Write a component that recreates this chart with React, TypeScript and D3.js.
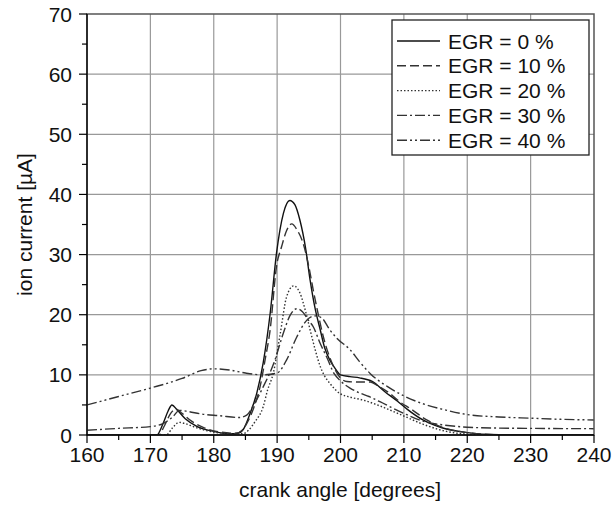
import React from "react";
import * as d3 from "d3";

const xTicks = [160, 170, 180, 190, 200, 210, 220, 230, 240];
const yTicks = [0, 10, 20, 30, 40, 50, 60, 70];
const seriesNames = ["EGR = 0 %", "EGR = 10 %", "EGR = 20 %", "EGR = 30 %", "EGR = 40 %"];

const egr0: [number, number][] = [
  [160, 0], [171, 0], [172, 1.9], [172.8, 4.0], [173.4, 5.0], [174.2, 4.2], [175.5, 2.7], [177.4, 1.4],
  [180, 0.6], [182.5, 0.2], [183.8, 0.3], [184.7, 1.0], [185.7, 3.5], [186.8, 7.0], [187.8, 12],
  [188.9, 20.2], [189.9, 30.2], [191, 36.9], [192, 39], [192.8, 38.3], [193.6, 35.7], [194.5, 31],
  [195.2, 25.8], [196, 21], [196.8, 17.5], [197.5, 14.5], [198.3, 12.5], [199.2, 11], [200, 10],
  [201.5, 9.7], [203, 9.5], [205, 8.9], [207, 7.2], [209, 5.6], [210.5, 4.3], [213, 2.5], [216, 1.2],
  [220, 0.4], [225, 0.05], [230, 0], [240, 0],
];
const egr10: [number, number][] = [
  [160, 0], [171.3, 0], [172.2, 1.5], [173.2, 3.6], [174, 4.3], [175, 3.6], [176.5, 2.3], [178.5, 1.2],
  [181, 0.5], [183.5, 0.3], [184.5, 0.8], [185.2, 1.9], [186.3, 4.5], [187.3, 8], [188.1, 12.5],
  [188.9, 17.5], [189.9, 28], [190.7, 31.3], [191.5, 34], [192.3, 35.1], [193.2, 34], [194.1, 31.9],
  [195, 28], [195.7, 24.1], [196.5, 20], [197.3, 16.3], [198.1, 13.5], [198.9, 11.4], [199.9, 9.6],
  [201, 8.9], [203, 8.8], [204.7, 8.8], [206, 8.1], [207.8, 6.9], [209.5, 5.4], [211, 4.4],
  [213.6, 2.5], [216, 1.3], [220, 0.4], [225, 0.05], [240, 0],
];
const egr20: [number, number][] = [
  [160, 0], [172.5, 0], [173.5, 1.2], [174.5, 2.1], [175.5, 1.9], [177, 1.3], [179, 0.7], [181.5, 0.3],
  [184.5, 0.2], [185.5, 0.8], [186.5, 2.2], [187.8, 4.7], [188.5, 7.5], [189.4, 10.3], [190.5, 16.9],
  [191.5, 23], [192.6, 24.8], [193.6, 23.6], [194.5, 20.5], [195.2, 17.5], [196, 14.2], [196.8, 11.4],
  [197.5, 9.8], [198.3, 8.6], [199.9, 6.9], [201.5, 6.3], [203.6, 5.8], [206.3, 4.8], [209.9, 3.2],
  [213, 1.8], [216.7, 0.6], [220, 0.15], [225, 0], [240, 0],
];
const egr30: [number, number][] = [
  [160, 0.8], [165, 1.1], [170, 1.4], [172, 1.9], [173.5, 3.0], [174.6, 4.1], [176, 3.9], [178, 3.5],
  [181, 3.2], [184, 2.9], [185.2, 3.3], [186.3, 5], [187.8, 8], [189.5, 12], [191, 17], [192, 19.8],
  [193.1, 21], [194, 20.5], [195, 19], [195.7, 18], [196.8, 15.2], [197.8, 13], [199, 10.2], [200, 9.0],
  [201.5, 7.8], [203, 7.0], [204.5, 6.4], [206.3, 5.5], [208, 4.6], [210, 3.6], [213, 2.3], [216, 1.7],
  [220, 1.3], [225, 1.15], [230, 1.1], [240, 1.05],
];
const egr40: [number, number][] = [
  [160, 5.0], [165, 6.4], [170, 7.8], [175, 9.4], [178, 10.7], [180, 11.0], [182.5, 10.8], [185, 10.3],
  [187.8, 10.0], [190, 10.3], [191.5, 12.5], [193.1, 16.3], [194.7, 19.1], [196, 19.8], [197, 19.5],
  [198.3, 17.5], [199.5, 16], [201.5, 14.2], [203, 12.2], [204.7, 10.2], [207.8, 7.8], [210, 6.5],
  [213, 5.2], [216, 4.3], [220, 3.4], [225, 3.0], [230, 2.8], [235, 2.6], [240, 2.5],
];

const seriesData = [egr0, egr10, egr20, egr30, egr40];
const dashes = ["none", "9 4", "1.5 2", "10 3 2 3", "10 3 2 3 2 3"];
const strokes = ["#111", "#333", "#333", "#333", "#333"];

const W = 616, H = 506;
const L = 87, R = 594, T = 14, B = 435;
const FONT = "'Liberation Sans', Arial, sans-serif";

export default function App() {
  const x = d3.scaleLinear().domain([160, 240]).range([L, R]);
  const y = d3.scaleLinear().domain([0, 70]).range([B, T]);
  const line = d3.line<[number, number]>().x(d => x(d[0])).y(d => y(d[1])).curve(d3.curveMonotoneX);
  const minorX = d3.range(165, 240, 10);
  const minorY = d3.range(5, 70, 10);
  const legX = 392, legY = 20, legW = 197, legH = 135;
  return (
    <svg width={W} height={H} style={{ position: "absolute", left: 0, top: 0, background: "#fff" }} fontFamily={FONT}>
      <rect x={0} y={0} width={W} height={H} fill="#fff" />
      {xTicks.slice(1, -1).map(t => (
        <line key={"gx" + t} x1={x(t)} x2={x(t)} y1={T} y2={B} stroke="#999" strokeWidth={1.2} />
      ))}
      {yTicks.slice(1, -1).map(t => (
        <line key={"gy" + t} x1={L} x2={R} y1={y(t)} y2={y(t)} stroke="#999" strokeWidth={1.2} />
      ))}
      <defs>
        <clipPath id="plot"><rect x={L} y={T} width={R - L} height={B - T} /></clipPath>
      </defs>
      <g clipPath="url(#plot)">
        {seriesData.map((s, i) => (
          <path key={i} d={line(s) || ""} fill="none" stroke={strokes[i]} strokeWidth={1.4}
            strokeDasharray={dashes[i]} />
        ))}
      </g>
      <rect x={L} y={T} width={R - L} height={B - T} fill="none" stroke="#555" strokeWidth={1.5} />
      <line x1={L} x2={L} y1={T} y2={B} stroke="#000" strokeWidth={1.3} />
      <line x1={L} x2={R} y1={B} y2={B} stroke="#000" strokeWidth={1.3} />
      {xTicks.map(t => (
        <g key={"xt" + t}>
          <line x1={x(t)} x2={x(t)} y1={B} y2={B + 8} stroke="#000" strokeWidth={1.2} />
          <text x={x(t)} y={462} textAnchor="middle" fontSize={21} fill="#111">{t}</text>
        </g>
      ))}
      {minorX.map(t => (
        <line key={"mx" + t} x1={x(t)} x2={x(t)} y1={B} y2={B + 5} stroke="#000" strokeWidth={1.2} />
      ))}
      {yTicks.map(t => (
        <g key={"yt" + t}>
          <line x1={L - 8} x2={L} y1={y(t)} y2={y(t)} stroke="#000" strokeWidth={1.2} />
          <text x={72} y={y(t)} dy="0.36em" textAnchor="end" fontSize={21} fill="#111">{t}</text>
        </g>
      ))}
      {minorY.map(t => (
        <line key={"my" + t} x1={L - 5} x2={L} y1={y(t)} y2={y(t)} stroke="#000" strokeWidth={1.2} />
      ))}
      <text x={340} y={497} textAnchor="middle" fontSize={21} fill="#111">crank angle [degrees]</text>
      <text transform={`translate(32, ${(T + B) / 2}) rotate(-90)`} textAnchor="middle" fontSize={21} fill="#111">ion current [µA]</text>
      <rect x={legX} y={legY} width={legW} height={legH} fill="#fff" stroke="#222" strokeWidth={1.3} />
      {seriesNames.map((n, i) => {
        const cy = 41 + i * 24.8;
        return (
          <g key={n}>
            <line x1={397} x2={440} y1={cy} y2={cy} stroke={strokes[i]} strokeWidth={1.4} strokeDasharray={dashes[i]} />
            <text x={448} y={cy} dy="0.36em" fontSize={21} fill="#111">{n}</text>
          </g>
        );
      })}
    </svg>
  );
}
